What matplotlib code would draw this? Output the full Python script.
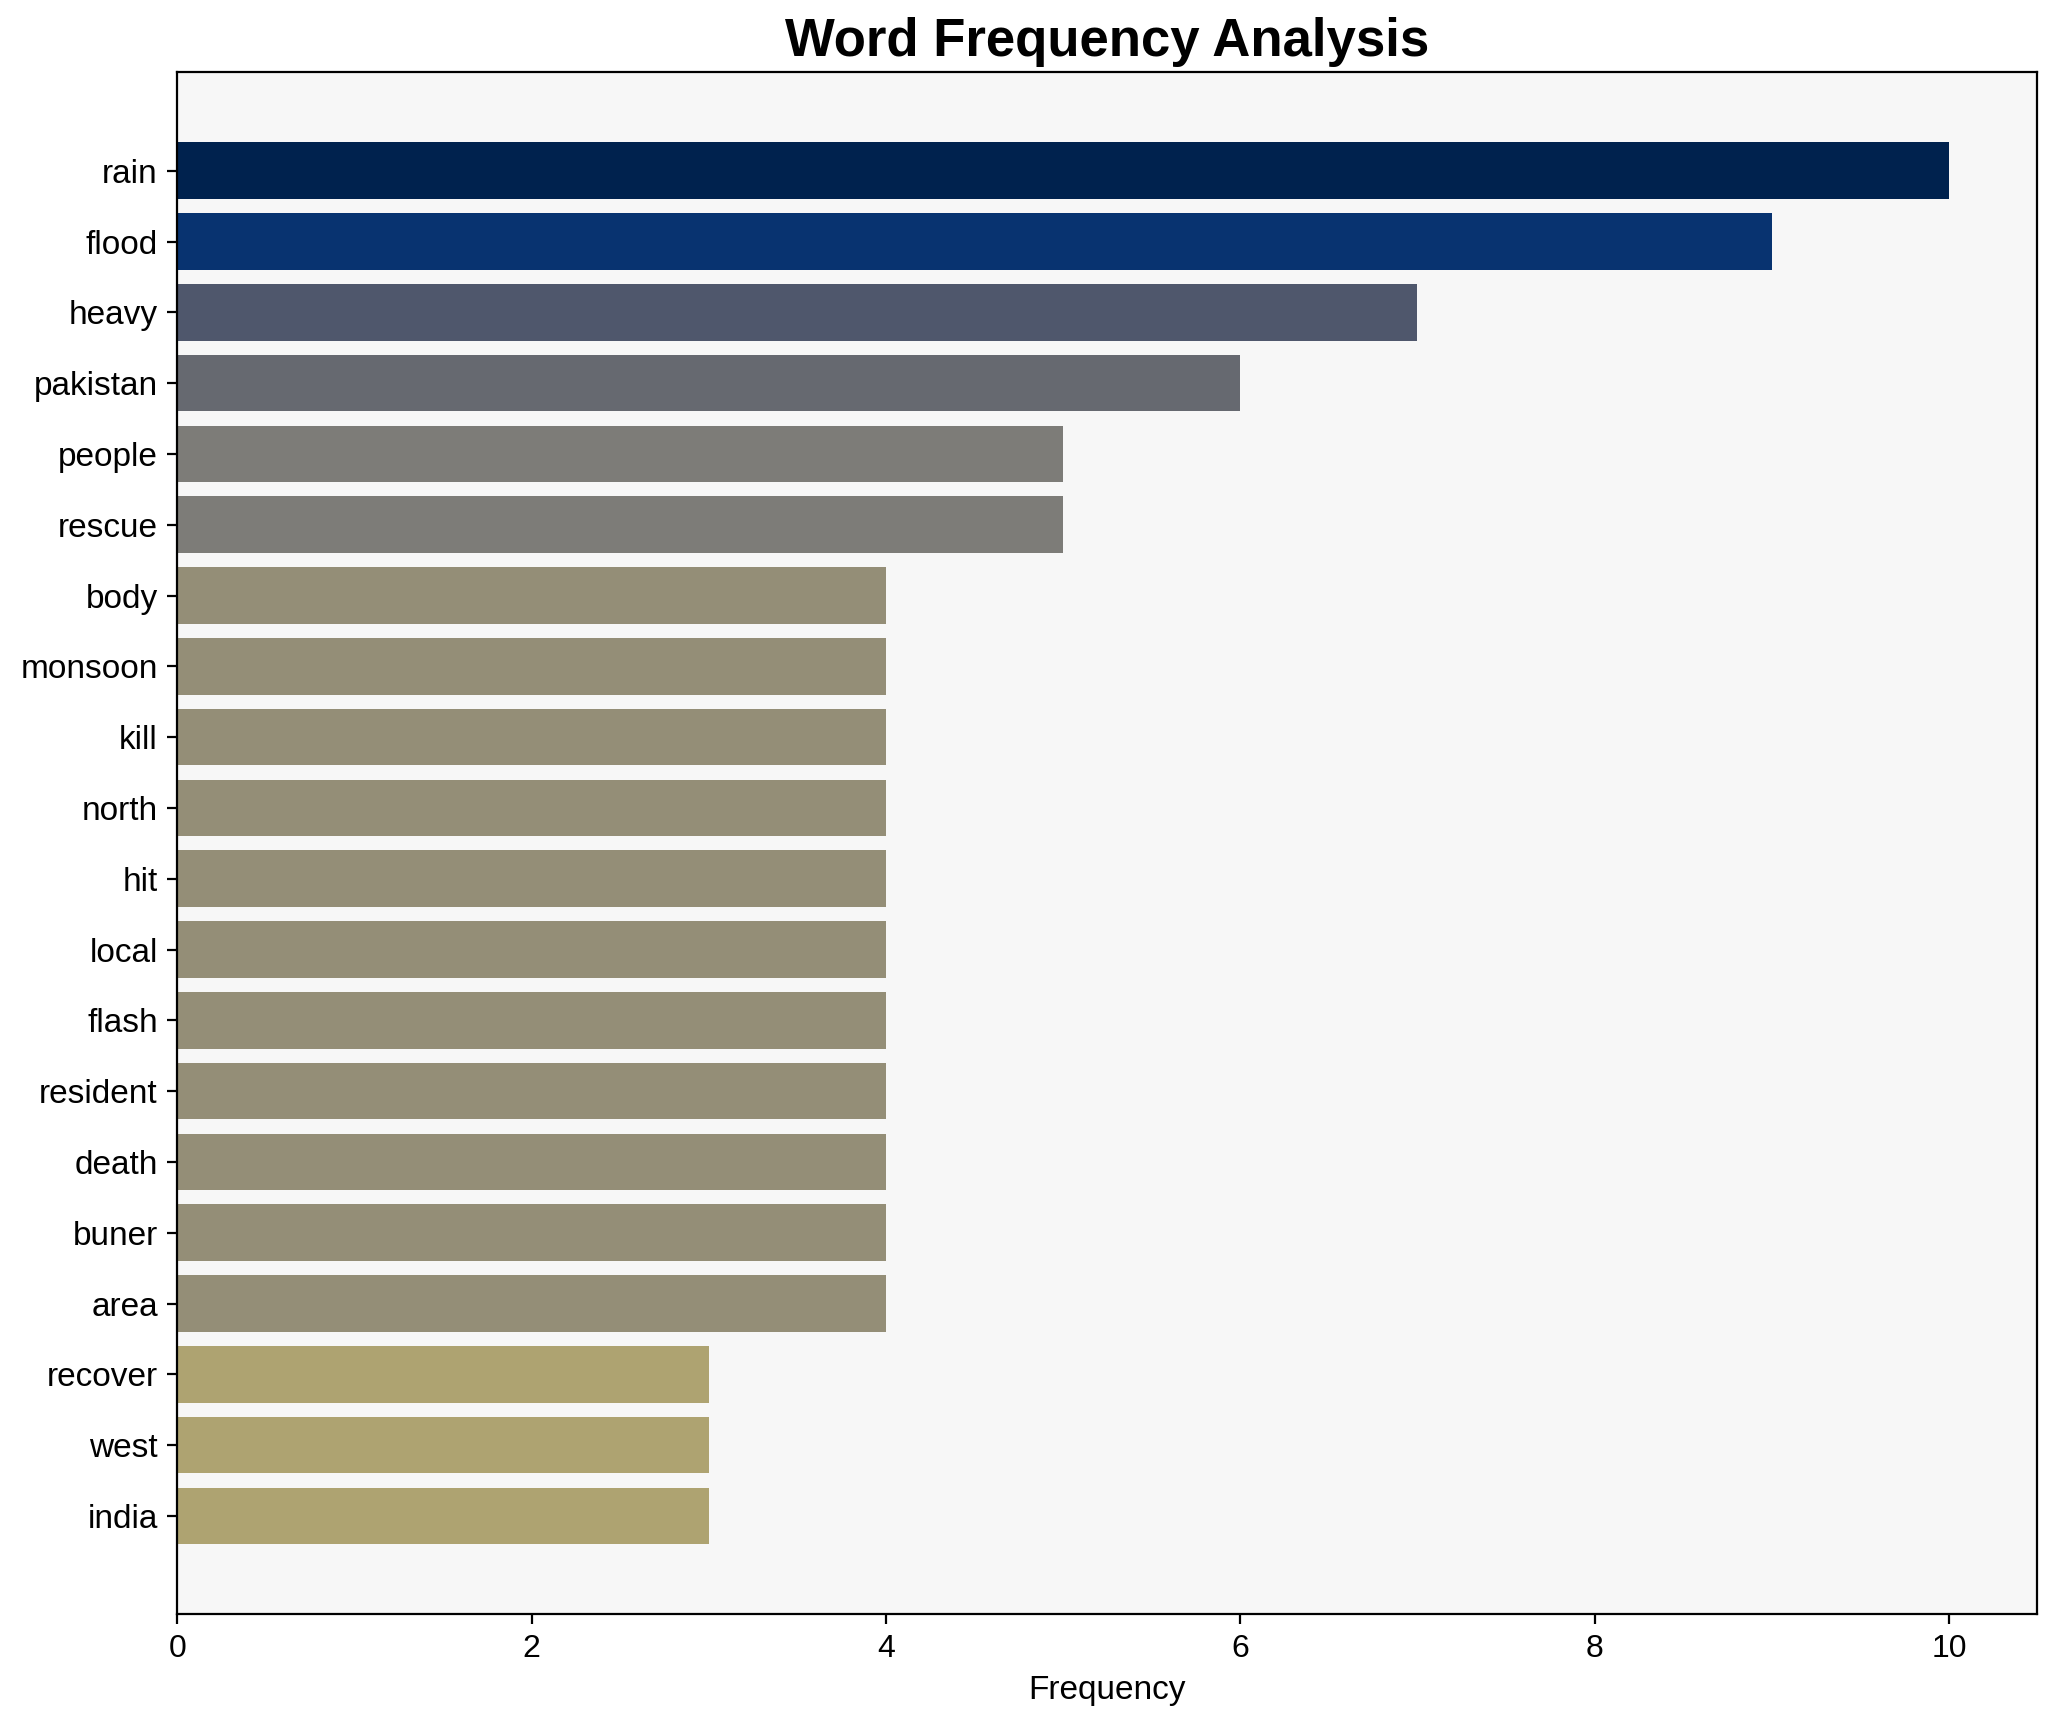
import numpy as np
import matplotlib.pyplot as plt

plt.rcParams['font.family'] = ['Liberation Sans', 'DejaVu Sans']

words = ['rain', 'flood', 'heavy', 'pakistan', 'people', 'rescue', 'body', 'monsoon',
         'kill', 'north', 'hit', 'local', 'flash', 'resident', 'death', 'buner',
         'area', 'recover', 'west', 'india']
counts = [10, 9, 7, 6, 5, 5, 4, 4, 4, 4, 4, 4, 4, 4, 4, 4, 4, 3, 3, 3]

fig, ax = plt.subplots(figsize=(10.28, 8.61), dpi=200)

vals = np.array(counts)
colors = plt.cm.cividis(1 - vals / vals.max())
y = np.arange(len(words))[::-1]
ax.barh(y, vals, color=colors, height=0.8)
ax.set_yticks(y)
ax.set_yticklabels(words, fontsize=12)
ax.tick_params(axis='x', labelsize=11.5)
ax.set_facecolor('#f7f7f7')
ax.set_xlabel('Frequency', fontsize=12)
ax.set_title('Word Frequency Analysis', fontsize=19, fontweight='bold')

fig.subplots_adjust(left=0.0862, right=0.991, top=0.958, bottom=0.0625)
plt.savefig('out.png', dpi=200)
